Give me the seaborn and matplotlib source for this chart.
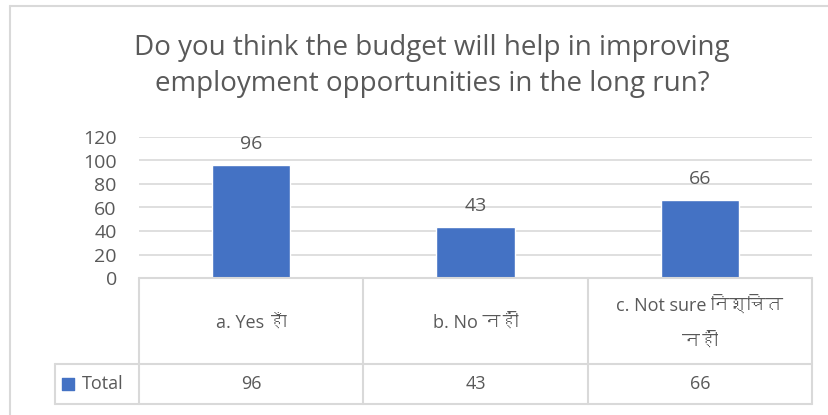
import matplotlib
matplotlib.use("Agg")
import matplotlib.pyplot as plt
import seaborn as sns
import pandas as pd
from matplotlib import font_manager
from matplotlib.ft2font import FT2Font
from matplotlib.lines import Line2D

# data
categories = ["a. Yes हाँ", "b. No नहीं", "c. Not sure निश्चित\nनहीं"]
values = [96, 43, 66]
series_name = "Total"
title = "Do you think the budget will help in improving\nemployment opportunities in the long run?"
yticks = [0, 20, 40, 60, 80, 100, 120]

BLUE = "#4472C4"
GRID = "#D9D9D9"
TXT = "#595959"

sns.set_style("white")

# look for any installed font that has Devanagari glyphs
deva = None
for f in font_manager.fontManager.ttflist:
    try:
        if ord("ह") in FT2Font(f.fname).get_charmap():
            deva = f.name
            break
    except Exception:
        pass
fams = ["Open Sans", "DejaVu Sans"]
if deva:
    fams.insert(1, deva)
plt.rcParams["font.family"] = fams

W, H = 829, 415
fig = plt.figure(figsize=(W / 100, H / 100), dpi=100)

def fx(px):
    return px / W

def fy(py):
    return 1 - py / H

# outer chart border
fig.add_artist(Line2D([fx(10), fx(10)], [fy(6), 0], color=GRID, lw=1.5))
fig.add_artist(Line2D([fx(10), 1], [fy(6), fy(6)], color=GRID, lw=1.5))

# main plot area
left, right, top, bottom = 139, 812, 137, 278
ax = fig.add_axes([fx(left), fy(bottom), fx(right - left), fy(top) - fy(bottom)])
df = pd.DataFrame({"cat": range(len(values)), "val": values})
sns.barplot(data=df, x="cat", y="val", color=BLUE, width=0.35, saturation=1, ax=ax)
ax.set_ylim(0, 120)
ax.set_xlim(-0.5, 2.5)
ax.set_yticks(yticks)
ax.tick_params(axis="y", length=0, pad=16, labelsize=14, labelcolor=TXT)
ax.set_xticks([])
ax.set_xlabel("")
ax.set_ylabel("")
for s in ax.spines.values():
    s.set_visible(False)
ax.yaxis.grid(True, color=GRID, lw=1.2)
ax.set_axisbelow(True)
ax.bar_label(ax.containers[0], padding=9, fontsize=14, color=TXT)

fig.text(fx(432), fy(66), title, ha="center", va="center", fontsize=20,
         color=TXT, linespacing=1.35)

# data table under the axis
tb = fig.add_axes([fx(left), fy(404), fx(right - left), fy(278) - fy(404)])
tb.set_xlim(-0.5, 2.5)
tb.set_ylim(404, 278)
tb.axis("off")
lc = dict(color=GRID, lw=1.5, clip_on=False)
leg_left = -0.5 - (left - 55) / ((right - left) / 3)
tb.plot([-0.5, 2.5], [278, 278], **lc)
tb.plot([leg_left, 2.5], [364, 364], **lc)
tb.plot([leg_left, 2.5], [404, 404], **lc)
tb.plot([leg_left, leg_left], [364, 404], **lc)
for b in [-0.5, 0.5, 1.5, 2.5]:
    tb.plot([b, b], [278, 404], **lc)
for i, (c, v) in enumerate(zip(categories, values)):
    tb.text(i, 323, c, ha="center", va="center", fontsize=13, color=TXT, linespacing=2.3)
    tb.text(i, 384, str(v), ha="center", va="center", fontsize=13, color=TXT)
tb.scatter([leg_left + 0.06], [384], marker="s", s=80, color=BLUE, clip_on=False)
tb.text(leg_left + 0.12, 384, series_name, ha="left", va="center", fontsize=13, color=TXT)

fig.savefig("out.png", dpi=100)
